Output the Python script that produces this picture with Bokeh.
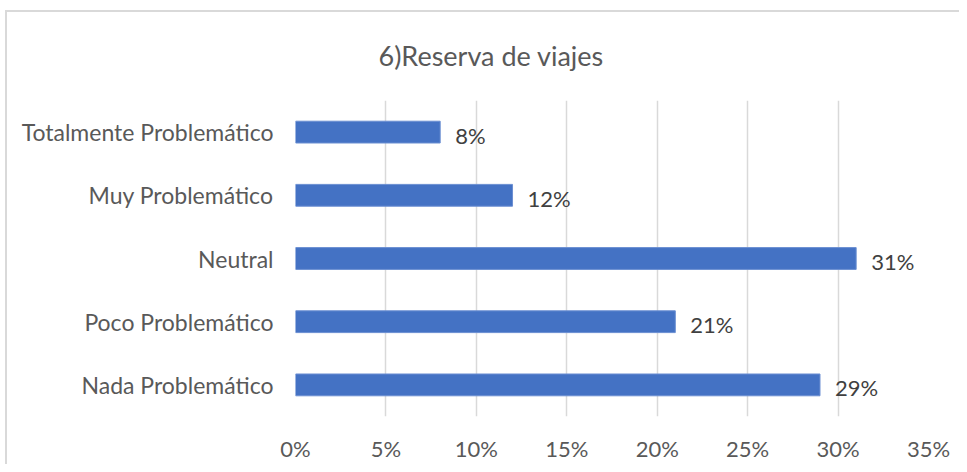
from bokeh.plotting import figure
from bokeh.models import ColumnDataSource, Range1d, FactorRange, NumeralTickFormatter, FixedTicker, LabelSet
from bokeh.core.properties import value
from bokeh.embed import file_html
from bokeh.resources import INLINE

categories = ["Nada Problemático", "Poco Problemático", "Neutral", "Muy Problemático", "Totalmente Problemático"]
values = [0.29, 0.21, 0.31, 0.12, 0.08]
tick_values = [0.0, 0.05, 0.10, 0.15, 0.20, 0.25, 0.30, 0.35]
title_text = "6)Reserva de viajes"

labels = [f"{round(v * 100)}%" for v in values]
source = ColumnDataSource(dict(cat=categories, val=values, lab=labels))

FONT = "Lato"
BORDER = "#d9d9d9"

p = figure(
    width=959, height=464,
    y_range=FactorRange(*categories, range_padding=0.0),
    x_range=Range1d(0, 0.35),
    output_backend="svg", toolbar_location=None,
    min_border_left=295, min_border_right=31, min_border_top=100, min_border_bottom=46,
    title=title_text,
)
p.border_fill_color = None
p.background_fill_color = "white"
p.styles = {
    "background-color": "white",
    "background-image": f"linear-gradient({BORDER},{BORDER}), linear-gradient({BORDER},{BORDER})",
    "background-size": "2px 100%, 100% 2px",
    "background-position": "5px 10px, 5px 10px",
    "background-repeat": "no-repeat",
}

p.title.align = "left"
p.title.offset = 83
p.title.standoff = 58
p.title.text_font = FONT
p.title.text_font_size = "27px"
p.title.text_font_style = "normal"
p.title.text_color = "#595959"

p.hbar(y="cat", right="val", left=0, height=0.345, source=source,
       fill_color="#4472C4", line_color="#6b8fd2", line_width=1)

ls = LabelSet(x="val", y="cat", text="lab", source=source, x_offset=15, y_offset=-3,
              text_baseline="middle", text_align="left", text_font=value(FONT),
              text_font_size="22px", text_color="#404040")
p.add_layout(ls)

p.outline_line_color = None
p.ygrid.grid_line_color = None
p.xgrid.grid_line_color = "#d9d9d9"
p.xgrid.grid_line_width = 1.5
p.xaxis.ticker = FixedTicker(ticks=tick_values)
p.xaxis.formatter = NumeralTickFormatter(format="0%")

for ax in (p.xaxis, p.yaxis):
    ax.axis_line_color = None
    ax.major_tick_line_color = None
    ax.minor_tick_line_color = None
    ax.major_label_text_font = FONT
    ax.major_label_text_color = "#595959"

p.xaxis.major_label_text_font_size = "22px"
p.yaxis.major_label_text_font_size = "23px"
p.xaxis.major_label_standoff = 12
p.yaxis.major_label_standoff = 16

open("out.html", "w").write(file_html(p, INLINE))
